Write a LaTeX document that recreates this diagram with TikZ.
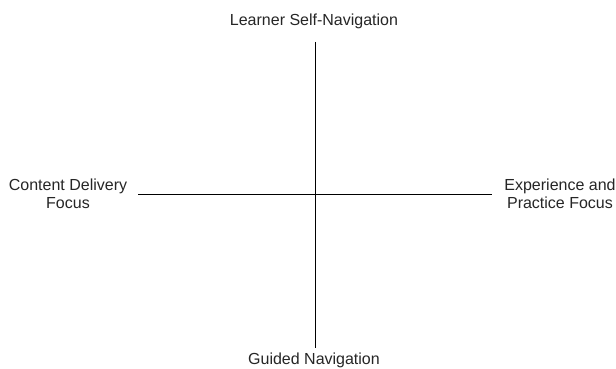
\documentclass[tikz,border=0pt]{standalone}
\usepackage{fontspec}
\setmainfont{Liberation Sans}
\begin{document}
\begin{tikzpicture}[x=1pt,y=1pt,
  lbl/.style={font=\fontsize{16}{18}\selectfont, text=black!85, inner sep=0pt, align=center},
  axis/.style={draw=black, line width=1pt}]
\useasboundingbox[fill=white] (0,0) rectangle (616,369);
\coordinate (top) at (315,327);
\coordinate (bot) at (315,21);
\coordinate (lft) at (138,174.5);
\coordinate (rgt) at (492,174.5);
\draw[axis] (top) -- (bot);
\draw[axis] (lft) -- (rgt);
\node[lbl, anchor=base] (tl) at (314,343) {Learner Self-Navigation};
\node[lbl, anchor=base] (bl) at (314,4) {Guided Navigation};
\node[lbl] (ll) at (68,175) {Content Delivery\\Focus};
\node[lbl] (rl) at (560,175) {Experience and\\Practice Focus};
\end{tikzpicture}
\end{document}
